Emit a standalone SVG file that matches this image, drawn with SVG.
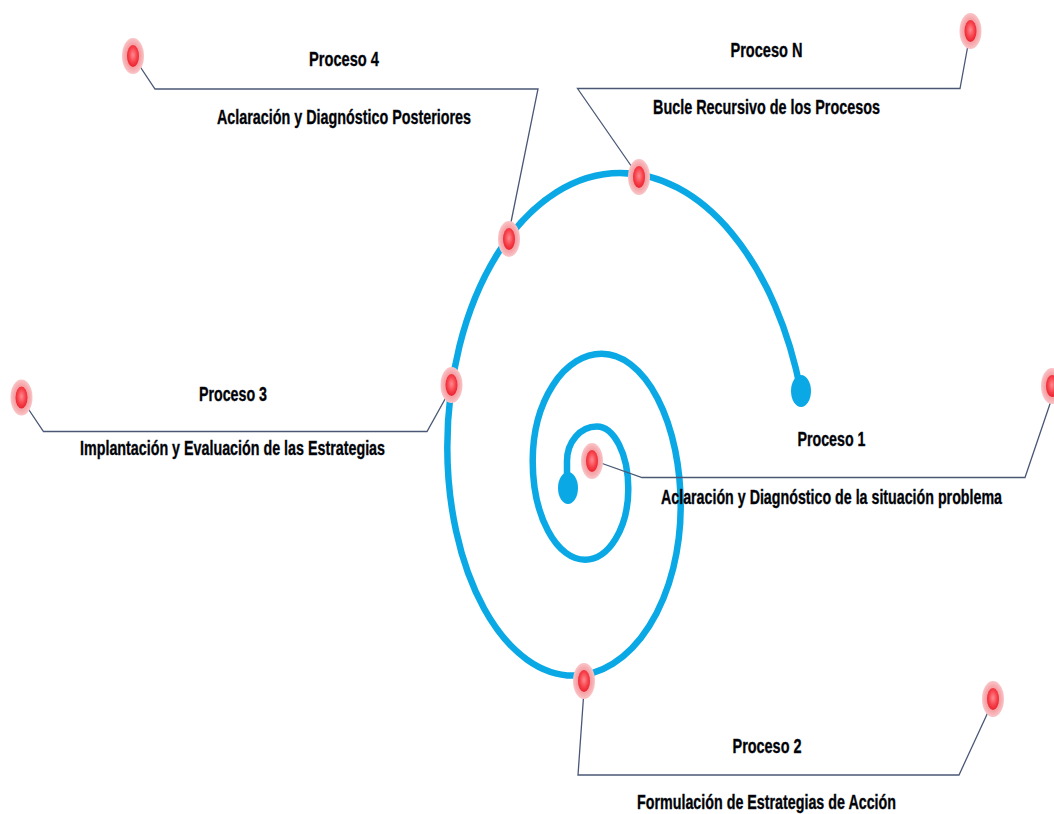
<svg xmlns="http://www.w3.org/2000/svg" width="1054" height="814" viewBox="0 0 1054 814">
<defs>
<radialGradient id="gHalo" cx="50%" cy="50%" r="50%">
<stop offset="0" stop-color="#f47f86"/>
<stop offset="0.7" stop-color="#f6a6aa"/>
<stop offset="1" stop-color="#f9c6c8"/>
</radialGradient>
<radialGradient id="gCore" cx="50%" cy="45%" r="55%">
<stop offset="0" stop-color="#ff8a90"/>
<stop offset="0.6" stop-color="#f7434d"/>
<stop offset="1" stop-color="#e8222e"/>
</radialGradient>
<g id="mk">
<ellipse class="halo" cx="0" cy="0" rx="11" ry="18"/>
<ellipse class="core" cx="0" cy="0" rx="6" ry="11"/>
</g>
</defs>
<style>
.halo{fill:url(#gHalo);}
.core{fill:url(#gCore);}
.spiral{fill:none;stroke:#0aa9e6;stroke-width:6.5;stroke-linecap:round;}
.dot{fill:#0aa9e6;}
.conn{fill:none;stroke:#4a5876;stroke-width:1.3;stroke-linejoin:miter;}
.t{font-family:"Liberation Sans",Arial,sans-serif;font-weight:bold;font-size:21px;fill:#000;stroke:#111a2e;stroke-width:0.4;text-anchor:middle;}
</style>
<rect width="1054" height="814" fill="#ffffff"/>
<g id="spiral">
<path class="spiral" d="M 567 486 L 567 461 A 29.7 34.6 0 0 1 596.7 426.4 A 31.6 62.3 0 0 1 628.3 488.7 A 43.3 71 0 0 1 585 559.7 A 52.3 98.7 0 0 1 532.7 461 A 69 107.2 0 0 1 601.7 353.8 A 79 152.2 0 0 1 680.7 506 A 107.4 169.6 0 0 1 573.3 675.6 A 126 228.4 0 0 1 447.3 447.2 A 172.7 274.2 0 0 1 620 173 A 190 315 0 0 1 801 392"/>
<ellipse class="dot" cx="568" cy="488" rx="10" ry="16"/>
<ellipse class="dot" cx="801" cy="391" rx="10" ry="16"/>
</g>
<g id="connectors">
<polyline class="conn" points="137,62 155,89 538,89 509,232"/>
<polyline class="conn" points="968,45 960,88.5 577.5,88.5 634,170"/>
<polyline class="conn" points="1053,395 1025,477.5 642,477.5 598,462"/>
<polyline class="conn" points="584,690 578,775 959,775 989,710"/>
<polyline class="conn" points="25,404 43.5,431.5 427,431.5 449,392"/>
</g>
<g id="proceso4">
<use href="#mk" x="133" y="56"/>
<use href="#mk" x="509" y="239"/>
<text class="t" x="344" y="66" textLength="70" lengthAdjust="spacingAndGlyphs">Proceso 4</text>
<text class="t" x="344" y="124" textLength="254" lengthAdjust="spacingAndGlyphs">Aclaración y Diagnóstico Posteriores</text>
</g>
<g id="procesoN">
<use href="#mk" x="970.5" y="31"/>
<use href="#mk" x="639" y="177"/>
<text class="t" x="766.5" y="57" textLength="72" lengthAdjust="spacingAndGlyphs">Proceso N</text>
<text class="t" x="766.5" y="114" textLength="227" lengthAdjust="spacingAndGlyphs">Bucle Recursivo de los Procesos</text>
</g>
<g id="proceso1">
<use href="#mk" x="1052" y="386"/>
<use href="#mk" x="592" y="461"/>
<text class="t" x="831.5" y="446" textLength="68" lengthAdjust="spacingAndGlyphs">Proceso 1</text>
<text class="t" x="831.5" y="504" textLength="341" lengthAdjust="spacingAndGlyphs">Aclaración y Diagnóstico de la situación problema</text>
</g>
<g id="proceso2">
<use href="#mk" x="584" y="681"/>
<use href="#mk" x="993" y="699"/>
<text class="t" x="767" y="753" textLength="69" lengthAdjust="spacingAndGlyphs">Proceso 2</text>
<text class="t" x="766.5" y="809" textLength="259" lengthAdjust="spacingAndGlyphs">Formulación de Estrategias de Acción</text>
</g>
<g id="proceso3">
<use href="#mk" x="21.5" y="397.5"/>
<use href="#mk" x="451.5" y="385"/>
<text class="t" x="233" y="401" textLength="68" lengthAdjust="spacingAndGlyphs">Proceso 3</text>
<text class="t" x="232.5" y="455" textLength="305" lengthAdjust="spacingAndGlyphs">Implantación y Evaluación de las Estrategias</text>
</g>
</svg>
